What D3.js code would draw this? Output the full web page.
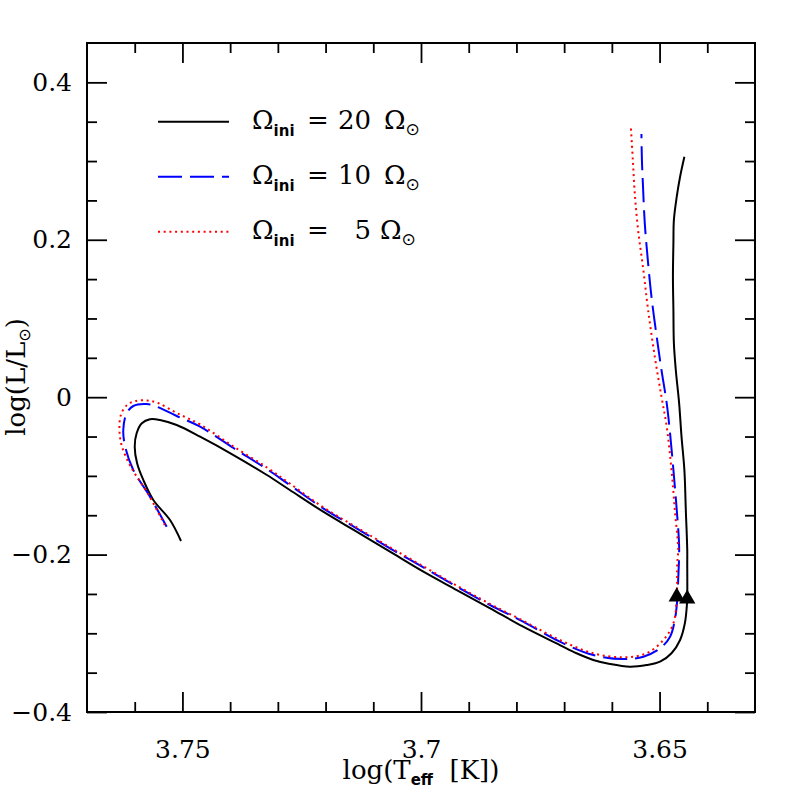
<!DOCTYPE html>
<html>
<head>
<meta charset="utf-8">
<script src="https://cdn.jsdelivr.net/npm/d3@7"></script>
<style>
html,body{margin:0;padding:0;background:#fff;}
svg{display:block;}
</style>
</head>
<body>
<svg id="chart" width="797" height="797"></svg>
<script>
// ---- data ----
const xTicks = [3.75, 3.7, 3.65];
const xTickLabels = ["3.75", "3.7", "3.65"];
const xMinorTicks = [3.76, 3.74, 3.73, 3.72, 3.71, 3.69, 3.68, 3.67, 3.66, 3.64];
const yTicks = [0.4, 0.2, 0, -0.2, -0.4];
const yTickLabels = ["0.4", "0.2", "0", "\u22120.2", "\u22120.4"];
const yMinorTicks = [0.35, 0.3, 0.25, 0.15, 0.1, 0.05, -0.05, -0.1, -0.15, -0.25, -0.3, -0.35];

const legendValues = ["20", "10", "5"];

const track20 = [[3.7503,-0.1827],[3.7526,-0.1561],[3.7561,-0.1306],[3.7582,-0.1052],[3.7595,-0.0840],[3.7600,-0.0629],[3.7596,-0.0459],[3.7585,-0.0332],[3.7568,-0.0281],[3.7547,-0.0290],[3.7512,-0.0354],[3.7463,-0.0502],[3.7393,-0.0735],[3.7323,-0.0989],[3.7275,-0.1179],[3.7205,-0.1455],[3.7135,-0.1709],[3.7065,-0.1963],[3.6995,-0.2217],[3.6925,-0.2450],[3.6855,-0.2682],[3.6786,-0.2916],[3.6709,-0.3149],[3.6674,-0.3254],[3.6639,-0.3339],[3.6604,-0.3390],[3.6562,-0.3424],[3.6527,-0.3403],[3.6499,-0.3361],[3.6475,-0.3254],[3.6457,-0.3085],[3.6447,-0.2873],[3.6443,-0.2662],[3.6442,-0.2535],[3.6442,-0.2111],[3.6442,-0.1942],[3.6445,-0.1433],[3.6448,-0.0925],[3.6454,-0.0502],[3.6459,-0.0078],[3.6466,0.0345],[3.6470,0.0685],[3.6471,0.1108],[3.6472,0.1531],[3.6471,0.1955],[3.6470,0.2251],[3.6464,0.2547],[3.6457,0.2801],[3.6448,0.3055]];

const track10 = [[3.7533,-0.1646],[3.7568,-0.1264],[3.7603,-0.0925],[3.7620,-0.0629],[3.7624,-0.0417],[3.7617,-0.0205],[3.7603,-0.0112],[3.7575,-0.0087],[3.7554,-0.0121],[3.7512,-0.0239],[3.7463,-0.0375],[3.7393,-0.0646],[3.7323,-0.0913],[3.7275,-0.1116],[3.7205,-0.1412],[3.7135,-0.1666],[3.7065,-0.1920],[3.6995,-0.2162],[3.6925,-0.2408],[3.6855,-0.2641],[3.6786,-0.2853],[3.6709,-0.3107],[3.6639,-0.3276],[3.6576,-0.3327],[3.6534,-0.3297],[3.6499,-0.3191],[3.6478,-0.3043],[3.6468,-0.2831],[3.6463,-0.2577],[3.6461,-0.2323],[3.6459,-0.1900],[3.6464,-0.1433],[3.6471,-0.0925],[3.6478,-0.0459],[3.6485,-0.0078],[3.6496,0.0345],[3.6506,0.0768],[3.6517,0.1277],[3.6524,0.1701],[3.6531,0.2209],[3.6535,0.2717],[3.6537,0.3013],[3.6538,0.3344]];

const track5 = [[3.7537,-0.1624],[3.7572,-0.1230],[3.7608,-0.0887],[3.7627,-0.0620],[3.7632,-0.0417],[3.7629,-0.0226],[3.7616,-0.0099],[3.7599,-0.0049],[3.7574,-0.0042],[3.7551,-0.0074],[3.7512,-0.0201],[3.7463,-0.0347],[3.7393,-0.0627],[3.7323,-0.0893],[3.7275,-0.1097],[3.7205,-0.1399],[3.7135,-0.1653],[3.7065,-0.1907],[3.6995,-0.2149],[3.6925,-0.2395],[3.6855,-0.2628],[3.6786,-0.2840],[3.6709,-0.3085],[3.6639,-0.3254],[3.6576,-0.3305],[3.6527,-0.3254],[3.6492,-0.3085],[3.6471,-0.2873],[3.6464,-0.2535],[3.6463,-0.2111],[3.6461,-0.1942],[3.6468,-0.1433],[3.6475,-0.0925],[3.6485,-0.0375],[3.6496,0.0006],[3.6510,0.0514],[3.6524,0.1108],[3.6534,0.1616],[3.6545,0.2124],[3.6552,0.2590],[3.6556,0.3013],[3.6560,0.3416]];

const markers = [[3.6464,-0.2535],[3.6442,-0.2563]];

// ---- layout ----
const margin = {left: 87, top: 43};
const W = 668, H = 669;
const serif = "'DejaVu Serif', serif";
const sans = "'DejaVu Sans', sans-serif";

const svg = d3.select("#chart");
const g = svg.append("g").attr("transform", `translate(${margin.left},${margin.top})`);

const x = d3.scaleLinear().domain([3.77, 3.63]).range([0, W]);
const y = d3.scaleLinear().domain([-0.4, 0.45]).range([H, 0]);

function styleAxis(sel) {
  sel.select(".domain").remove();
  sel.selectAll(".tick line").attr("stroke", "#000").attr("stroke-width", 1.8);
  sel.selectAll(".tick text").attr("fill", "#000").attr("font-family", serif).attr("font-size", 25);
}

// bottom
g.append("g").attr("transform", `translate(0,${H})`)
  .call(d3.axisBottom(x).tickValues(xTicks).tickSize(-20).tickPadding(28)
        .tickFormat((d, i) => xTickLabels[i]))
  .call(styleAxis);
g.append("g").attr("transform", `translate(0,${H})`)
  .call(d3.axisBottom(x).tickValues(xMinorTicks).tickSize(-10).tickFormat(""))
  .call(styleAxis);
// top
g.append("g")
  .call(d3.axisTop(x).tickValues(xTicks).tickSize(-20).tickFormat(""))
  .call(styleAxis);
g.append("g")
  .call(d3.axisTop(x).tickValues(xMinorTicks).tickSize(-10).tickFormat(""))
  .call(styleAxis);
// left
g.append("g")
  .call(d3.axisLeft(y).tickValues(yTicks).tickSize(-20).tickPadding(15)
        .tickFormat((d, i) => yTickLabels[i]))
  .call(styleAxis);
g.append("g")
  .call(d3.axisLeft(y).tickValues(yMinorTicks).tickSize(-10).tickFormat(""))
  .call(styleAxis);
// right
g.append("g").attr("transform", `translate(${W},0)`)
  .call(d3.axisRight(y).tickValues(yTicks).tickSize(-20).tickFormat(""))
  .call(styleAxis);
g.append("g").attr("transform", `translate(${W},0)`)
  .call(d3.axisRight(y).tickValues(yMinorTicks).tickSize(-10).tickFormat(""))
  .call(styleAxis);

// frame
g.append("rect").attr("x", 0).attr("y", 0).attr("width", W).attr("height", H)
  .attr("fill", "none").attr("stroke", "#000").attr("stroke-width", 2);

// tracks
const line = d3.line().x(d => x(d[0])).y(d => y(d[1])).curve(d3.curveCatmullRom.alpha(0.5));
const series = [
  {data: track20, color: "#000000", dash: null, width: 2},
  {data: track10, color: "#0000ff", dash: "24,8", width: 2},
  {data: track5,  color: "#ff0000", dash: "2,3.7", width: 2}
];
series.forEach(s => {
  g.append("path").datum(s.data).attr("d", line)
    .attr("fill", "none").attr("stroke", s.color).attr("stroke-width", s.width)
    .attr("stroke-dasharray", s.dash);
});

// triangles
g.selectAll(".tri").data(markers).enter().append("path")
  .attr("d", d3.symbol(d3.symbolTriangle, 115))
  .attr("transform", d => `translate(${x(d[0])},${y(d[1])})`)
  .attr("fill", "#000");

// legend
const legendRowY = [78.7, 133.7, 188.7];
series.forEach((s, i) => {
  const ly = legendRowY[i];
  g.append("line").attr("x1", 71).attr("x2", 142).attr("y1", ly).attr("y2", ly)
    .attr("stroke", s.color).attr("stroke-width", s.width).attr("stroke-dasharray", s.dash);
  const base = ly + 7;
  const t1 = g.append("text").attr("x", 165).attr("y", base)
    .attr("font-family", serif).attr("font-size", 26).attr("fill", "#000");
  t1.append("tspan").text("\u03A9");
  t1.append("tspan").attr("dy", 7).attr("font-family", sans).attr("font-weight", "bold")
    .attr("font-size", 15).text("ini");
  g.append("text").attr("x", 220).attr("y", base).attr("font-family", serif)
    .attr("font-size", 26).text("=");
  g.append("text").attr("x", 284).attr("y", base).attr("text-anchor", "end")
    .attr("font-family", serif).attr("font-size", 26).text(legendValues[i]);
  const t2 = g.append("text").attr("x", i === 2 ? 293 : 297).attr("y", base)
    .attr("font-family", serif).attr("font-size", 26).attr("fill", "#000");
  t2.append("tspan").text("\u03A9");
  t2.append("tspan").attr("dy", 6).attr("font-family", sans).attr("font-size", 17).text("\u2299");
});

// axis titles
const xt = svg.append("text").attr("x", 421).attr("y", 779).attr("text-anchor", "middle")
  .attr("font-family", serif).attr("font-size", 26).attr("fill", "#000");
xt.append("tspan").text("log(T");
xt.append("tspan").attr("dy", 6).attr("font-family", sans).attr("font-weight", "bold")
  .attr("font-size", 15).text("eff");
xt.append("tspan").attr("dy", -6).text("\u00A0\u00A0[K])");

const yt = svg.append("text").attr("transform", "translate(25,377) rotate(-90)")
  .attr("text-anchor", "middle").attr("font-family", serif).attr("font-size", 26).attr("fill", "#000");
yt.append("tspan").text("log(L/L");
yt.append("tspan").attr("dy", 5).attr("font-family", sans).attr("font-size", 16).text("\u2299");
yt.append("tspan").attr("dy", -5).text(")");
</script>
</body>
</html>
